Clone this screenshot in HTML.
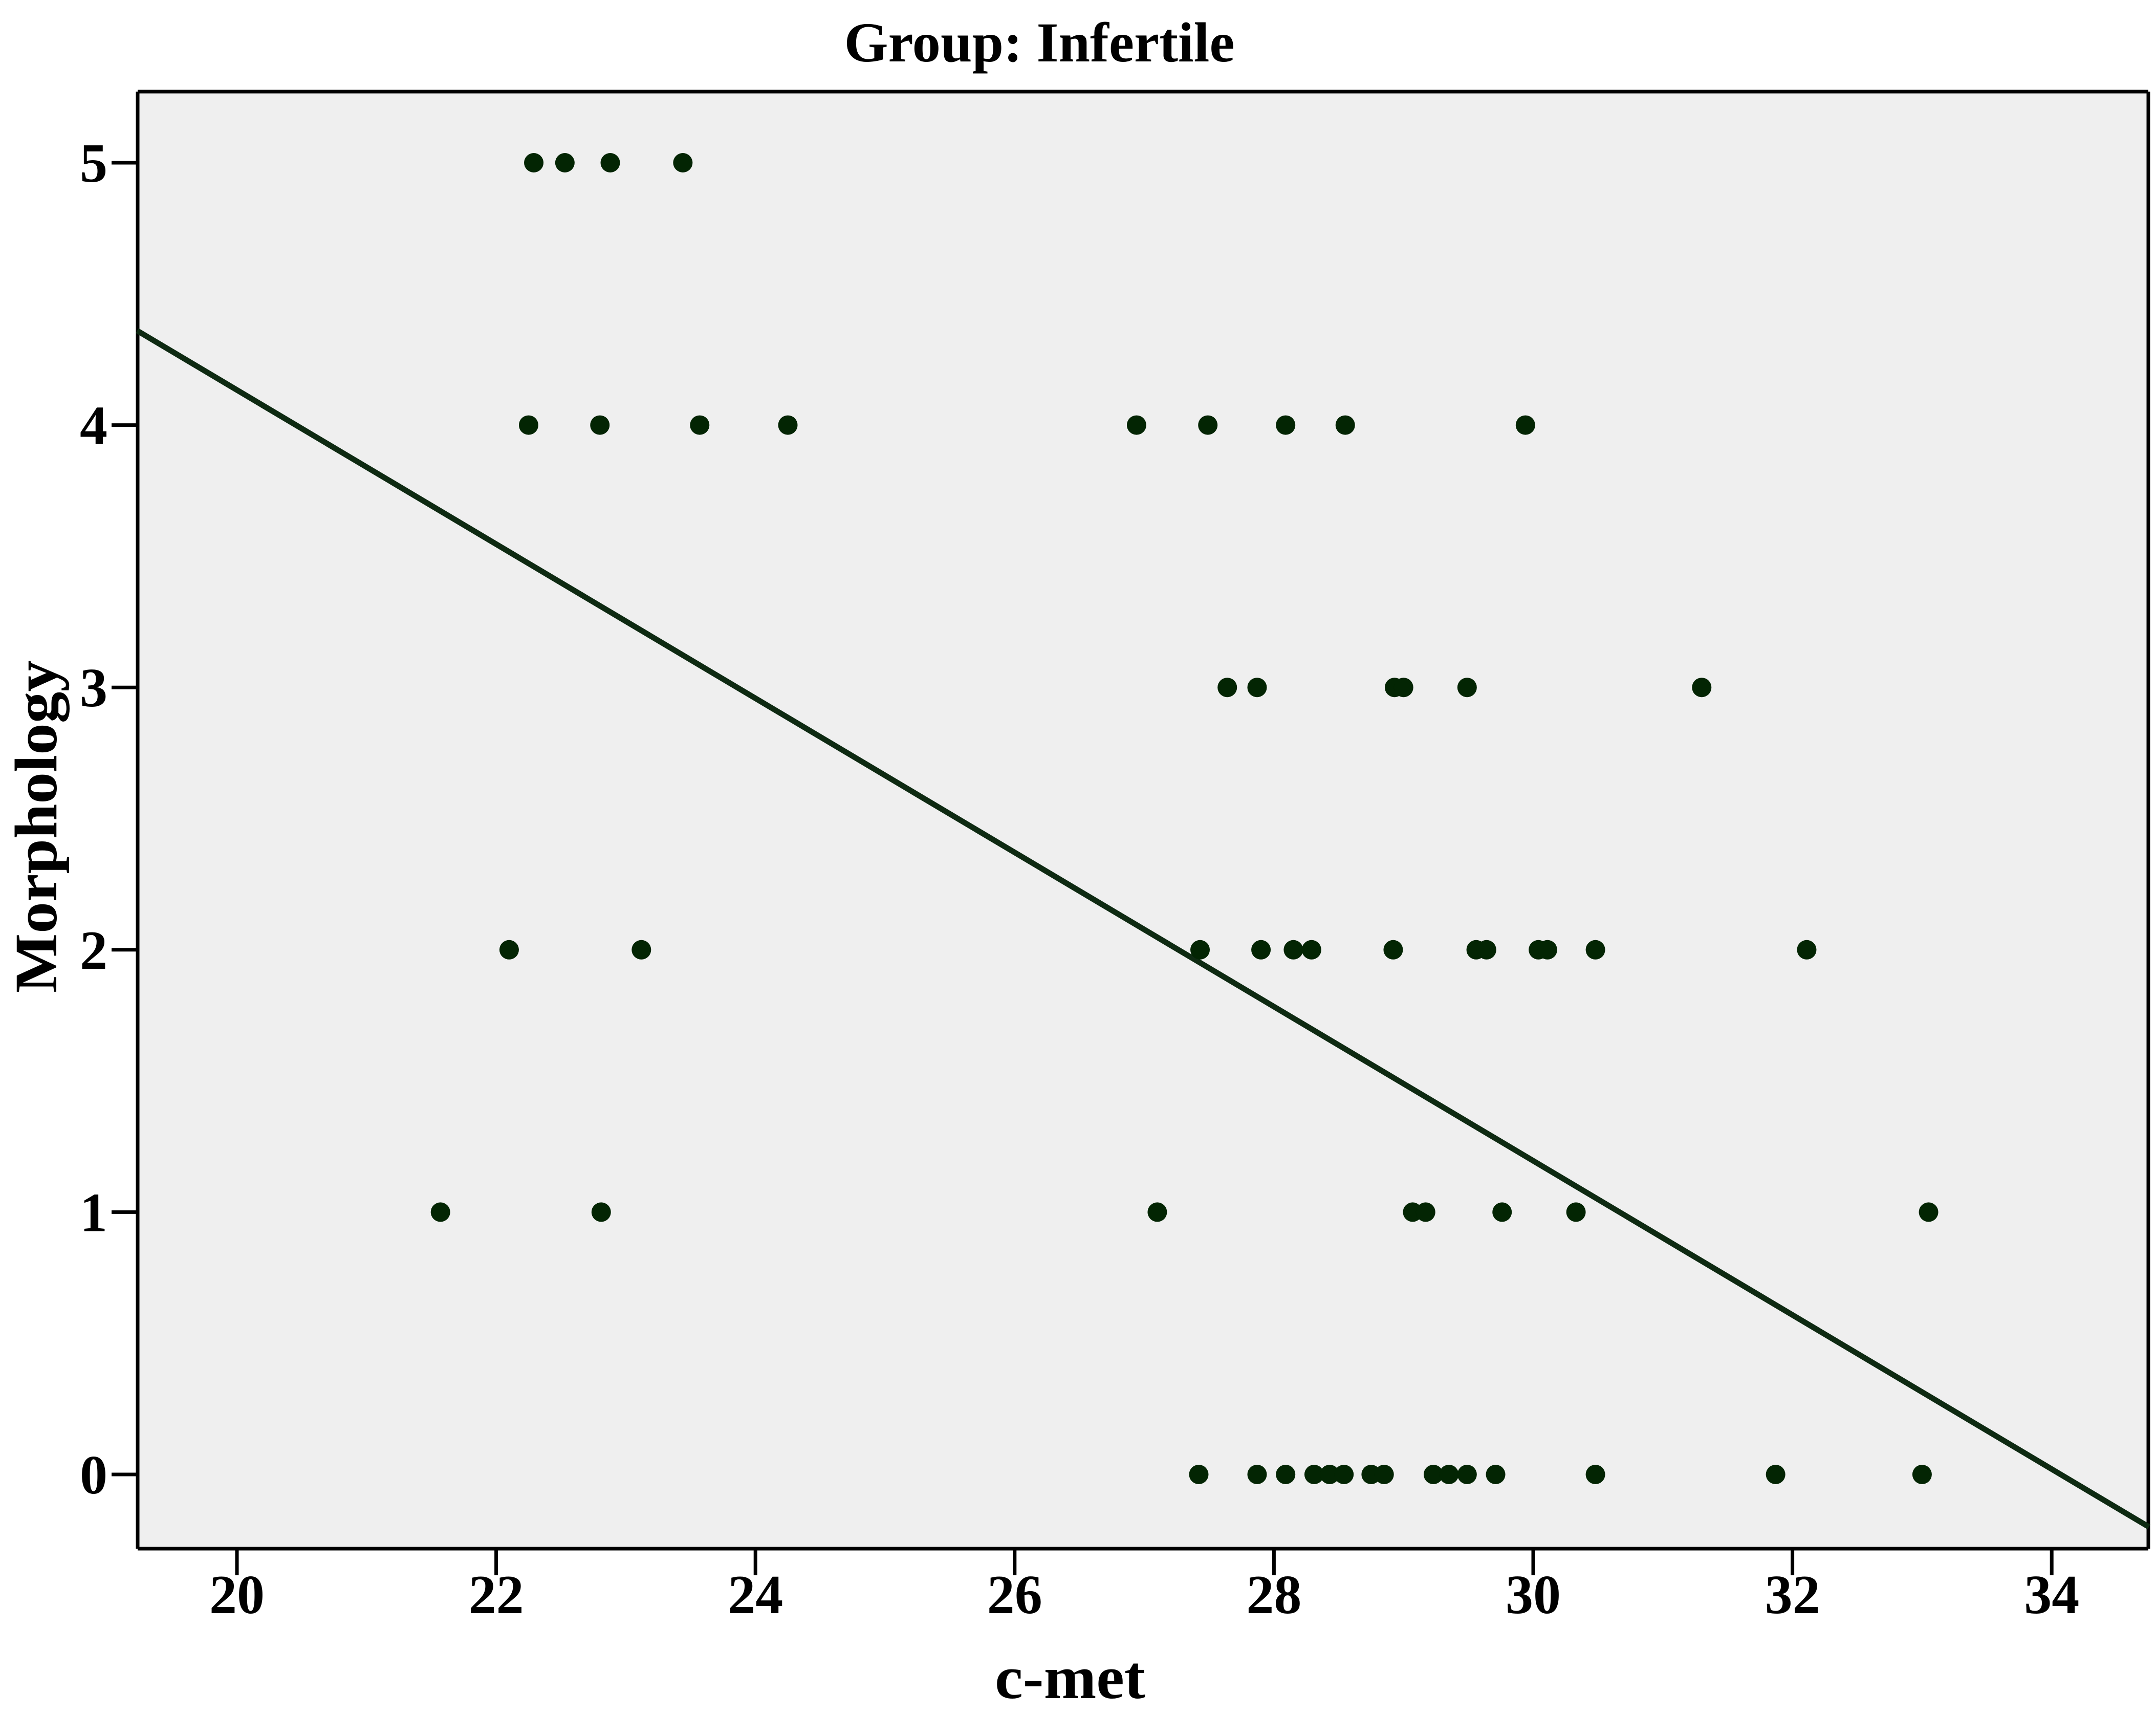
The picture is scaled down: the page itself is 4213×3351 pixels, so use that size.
<!DOCTYPE html>
<html><head><meta charset="utf-8"><style>html,body{margin:0;padding:0;background:#fff}svg{display:block}</style></head>
<body>
<svg id="chart" width="4213" height="3351" viewBox="0 0 4213 3351" xmlns="http://www.w3.org/2000/svg" font-family="'Liberation Serif', serif" font-weight="bold">
<rect x="272" y="181" width="3926" height="2842" fill="#efefef"/>
<line x1="269" y1="179" x2="4198" y2="179" stroke="#000" stroke-width="7"/>
<line x1="4198" y1="179" x2="4198" y2="3026" stroke="#000" stroke-width="7"/>
<line x1="269" y1="179" x2="269" y2="3026" stroke="#000" stroke-width="7"/>
<line x1="269" y1="3026" x2="4198" y2="3026" stroke="#000" stroke-width="7"/>
<g id="ticks"></g>
<g id="marks"></g>
<text x="2031" y="120" font-size="110" text-anchor="middle" textLength="763" lengthAdjust="spacingAndGlyphs">Group: Infertile</text>
<text x="2091" y="3318" font-size="120" text-anchor="middle" textLength="294" lengthAdjust="spacingAndGlyphs">c-met</text>
<text transform="translate(110,1615) rotate(-90)" font-size="118" text-anchor="middle" textLength="650" lengthAdjust="spacingAndGlyphs">Morphology</text>
</svg>
<script>
const xTicks = [20, 22, 24, 26, 28, 30, 32, 34];
const yTicks = [0, 1, 2, 3, 4, 5];
const cmet = [22.29,22.53,22.88,23.44,
 22.25,22.80,23.57,24.25,26.94,27.49,28.09,28.55,29.94,
 27.64,27.87,28.93,29.00,29.49,31.30,
 22.10,23.12,27.43,27.90,28.15,28.29,28.92,29.56,29.64,30.04,30.11,30.48,32.11,
 21.57,22.81,27.10,29.07,29.17,29.76,30.33,33.05,
 27.42,27.87,28.09,28.31,28.43,28.54,28.75,28.85,29.23,29.35,29.49,29.71,30.48,31.87,33.00];
const morphology = [5,5,5,5,
 4,4,4,4,4,4,4,4,4,
 3,3,3,3,3,3,
 2,2,2,2,2,2,2,2,2,2,2,2,2,
 1,1,1,1,1,1,1,1,
 0,0,0,0,0,0,0,0,0,0,0,0,0,0,0];
const fitX = [19.23, 34.75];
const fitY = [4.36, -0.20];

const NS = 'http://www.w3.org/2000/svg';
function xs(v){ return 463 + (v - 20) * 253.3; }
function ys(v){ return 2881 - v * 512.6; }
function mk(tag, attrs, parent){ const e = document.createElementNS(NS, tag); for (const k in attrs) e.setAttribute(k, attrs[k]); parent.appendChild(e); return e; }
const ticks = document.getElementById('ticks');
const marks = document.getElementById('marks');
xTicks.forEach(t => {
  const l = mk('line', {x1: xs(t), x2: xs(t), y1: 3026, y2: 3078, stroke: '#000', 'stroke-width': 7}, ticks);
  
  
  const tx = mk('text', {x: xs(t), y: 3152, 'font-size': 108, 'text-anchor': 'middle'}, ticks);
  tx.textContent = t;
  
  
});
yTicks.forEach(t => {
  const l = mk('line', {x1: 218, x2: 269, y1: ys(t), y2: ys(t), stroke: '#000', 'stroke-width': 7}, ticks);
  
  
  const tx = mk('text', {x: 210, y: ys(t) + 37, 'font-size': 108, 'text-anchor': 'end'}, ticks);
  tx.textContent = t;
  
  
});
const fit = mk('line', {x1: xs(fitX[0]), y1: ys(fitY[0]), x2: xs(fitX[1]), y2: ys(fitY[1]), stroke: '#0e2a12', 'stroke-width': 11}, marks);


cmet.forEach((v, i) => {
  const c = mk('circle', {cx: xs(v), cy: ys(morphology[i]), r: 19, fill: '#032503'}, marks);
  
  
});
</script>
</body></html>
